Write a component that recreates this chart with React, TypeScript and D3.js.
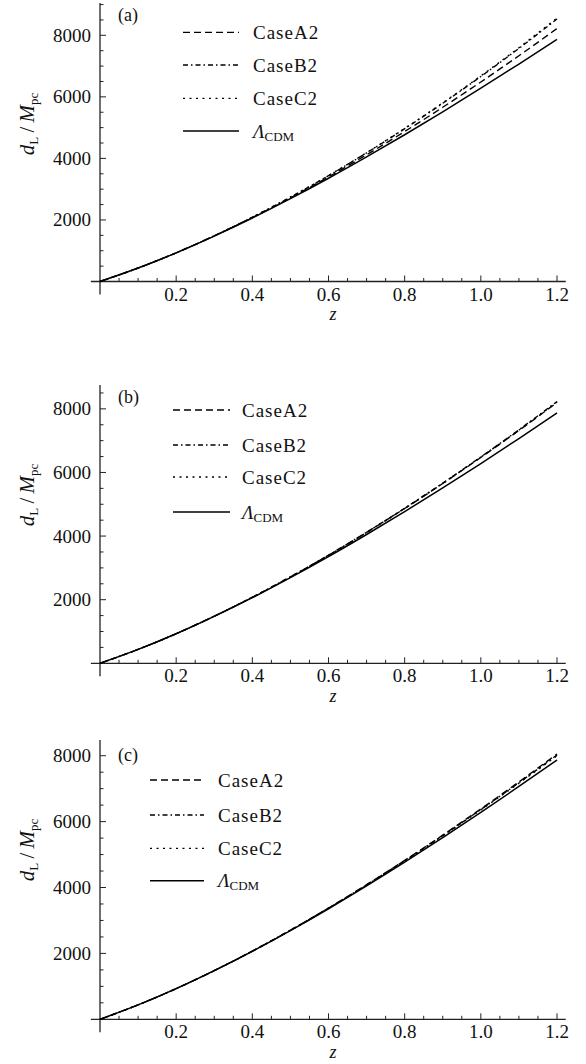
import React from 'react';
import * as d3 from 'd3';

// redshift samples
const zValues = [0, 0.1, 0.2, 0.3, 0.4, 0.5, 0.6, 0.7, 0.8, 0.9, 1.0, 1.1, 1.2];

// ΛCDM luminosity distance (Mpc)
const lcdm = [0, 437, 931, 1476, 2064, 2692, 3355, 4049, 4769, 5514, 6281, 7066, 7870];

// panel (a)
const caseA2a = [0, 437, 932, 1481, 2077, 2717, 3399, 4118, 4873, 5662, 6484, 7336, 8220];
const caseB2a = [0, 438, 933, 1486, 2088, 2740, 3438, 4180, 4965, 5792, 6663, 7574, 8530];
const caseC2a = [0, 438, 934, 1486, 2089, 2742, 3442, 4186, 4974, 5805, 6680, 7597, 8560];

// panel (b)
const caseA2b = [0, 437, 931, 1481, 2076, 2716, 3396, 4115, 4867, 5653, 6472, 7320, 8200];
const caseB2b = [0, 437, 931, 1482, 2077, 2718, 3400, 4120, 4876, 5666, 6489, 7343, 8230];
const caseC2b = [0, 437, 931, 1481, 2077, 2717, 3398, 4117, 4871, 5660, 6481, 7332, 8215];

// panel (c)
const caseA2c = [0, 437, 931, 1479, 2071, 2705, 3378, 4085, 4822, 5590, 6385, 7205, 8050];
const caseB2c = [0, 437, 931, 1478, 2070, 2703, 3374, 4079, 4813, 5577, 6368, 7182, 8020];
const caseC2c = [0, 437, 931, 1478, 2069, 2701, 3371, 4075, 4808, 5569, 6356, 7166, 8000];

const xMajorTicks = [0.2, 0.4, 0.6, 0.8, 1.0, 1.2];
const yMajorTicks = [2000, 4000, 6000, 8000];
const panelLabels = ['(a)', '(b)', '(c)'];
const caseNames = ['CaseA2', 'CaseB2', 'CaseC2'];

const FONT = '"Liberation Serif", "Times New Roman", serif';

const dashStyles = ['7 4', '5 3 1.5 3', '2 4.5'];

const panels = [
  {
    label: panelLabels[0], series: [caseA2a, caseB2a, caseC2a],
    yMax: 9050, axisY: 281.5, topY: 3,
    legend: { x1: 183, x2: 239, tx: 253, ys: [32.3, 65, 98.3, 131] },
    yLabelY: 124, tagY: 15,
  },
  {
    label: panelLabels[1], series: [caseA2b, caseB2b, caseC2b],
    yMax: 8750, axisY: 663.3, topY: 385,
    legend: { x1: 173, x2: 230, tx: 242, ys: [410, 445, 477, 512] },
    yLabelY: 495, tagY: 397,
  },
  {
    label: panelLabels[2], series: [caseA2c, caseB2c, caseC2c],
    yMax: 8477, axisY: 1019.3, topY: 740,
    legend: { x1: 150, x2: 204, tx: 218, ys: [780, 815, 848.3, 880.7] },
    yLabelY: 850, tagY: 755,
  },
];

const x = d3.scaleLinear().domain([0, 1.2]).range([100, 557]);
const xMinor = d3.range(0.05, 1.2001, 0.05);

function Panel({ p }: { p: typeof panels[number] }) {
  const y = d3.scaleLinear().domain([0, p.yMax]).range([p.axisY, p.topY]);
  const yMinor = d3.range(500, p.yMax, 500);
  const line = d3
    .line<number>()
    .x((_, i) => x(zValues[i]))
    .y((d) => y(d))
    .curve(d3.curveMonotoneX);
  const axisColor = '#222';
  return (
    <g>
      {/* axes */}
      <line x1={x(-0.024)} x2={x(1.223)} y1={p.axisY} y2={p.axisY} stroke={axisColor} strokeWidth={1.3} />
      <line x1={x(0)} x2={x(0)} y1={p.topY} y2={p.axisY + 13} stroke={axisColor} strokeWidth={1.3} />
      {xMinor.map((t) => {
        const major = xMajorTicks.some((m) => Math.abs(m - t) < 1e-6);
        return (
          <line key={'xt' + t} x1={x(t)} x2={x(t)} y1={p.axisY} y2={p.axisY - (major ? 6 : 3.5)} stroke={axisColor} strokeWidth={1} />
        );
      })}
      {yMinor.map((t) => {
        const major = yMajorTicks.includes(t);
        return (
          <line key={'yt' + t} x1={x(0)} x2={x(0) + (major ? 6 : 3.5)} y1={y(t)} y2={y(t)} stroke={axisColor} strokeWidth={1} />
        );
      })}
      {xMajorTicks.map((t) => (
        <text key={'xl' + t} x={x(t)} y={p.axisY + 19} textAnchor="middle" fontFamily={FONT} fontSize={19} fill="#111">
          {t.toFixed(1)}
        </text>
      ))}
      {yMajorTicks.map((t) => (
        <text key={'yl' + t} x={x(0) - 9} y={y(t) + 6.5} textAnchor="end" fontFamily={FONT} fontSize={19} fill="#111">
          {t}
        </text>
      ))}
      <text x={333} y={p.axisY + 38.5} textAnchor="middle" fontFamily={FONT} fontSize={18} fontStyle="italic" fill="#111">
        z
      </text>
      <text transform={`translate(34,${p.yLabelY}) rotate(-90)`} textAnchor="middle" fontFamily={FONT} fontSize={21} fill="#111">
        <tspan fontStyle="italic">d</tspan>
        <tspan fontSize={13} dy={4}>L</tspan>
        <tspan dy={-4}>{'\u2009/\u2009'}</tspan>
        <tspan fontStyle="italic">M</tspan>
        <tspan fontSize={13} dy={4}>pc</tspan>
      </text>
      <text x={118} y={p.tagY + 6} fontFamily={FONT} fontSize={18} fill="#111">
        {p.label}
      </text>
      {/* curves */}
      <path d={line(lcdm) || ''} fill="none" stroke="#000" strokeWidth={1.5} />
      {p.series.map((s, i) => (
        <path key={'s' + i} d={line(s) || ''} fill="none" stroke="#000" strokeWidth={1.4} strokeDasharray={dashStyles[i]} />
      ))}
      {/* legend */}
      {caseNames.map((n, i) => (
        <g key={'lg' + i}>
          <line x1={p.legend.x1} x2={p.legend.x2} y1={p.legend.ys[i]} y2={p.legend.ys[i]} stroke="#000" strokeWidth={1.3} strokeDasharray={dashStyles[i]} />
          <text x={p.legend.tx} y={p.legend.ys[i] + 6.5} fontFamily={FONT} fontSize={19} letterSpacing={1} fill="#111">
            {n}
          </text>
        </g>
      ))}
      <line x1={p.legend.x1} x2={p.legend.x2} y1={p.legend.ys[3]} y2={p.legend.ys[3]} stroke="#000" strokeWidth={1.5} />
      <text x={p.legend.tx} y={p.legend.ys[3] + 6.5} fontFamily={FONT} fontSize={19} fill="#111">
        <tspan fontStyle="italic">Λ</tspan>
        <tspan fontSize={13} dy={3}>CDM</tspan>
      </text>
    </g>
  );
}

export default function App() {
  return (
    <svg width={586} height={1064} style={{ position: 'absolute', left: 0, top: 0, background: '#fff' }}>
      <rect x={0} y={0} width={586} height={1064} fill="#fff" />
      {panels.map((p) => (
        <Panel key={p.label} p={p} />
      ))}
    </svg>
  );
}
